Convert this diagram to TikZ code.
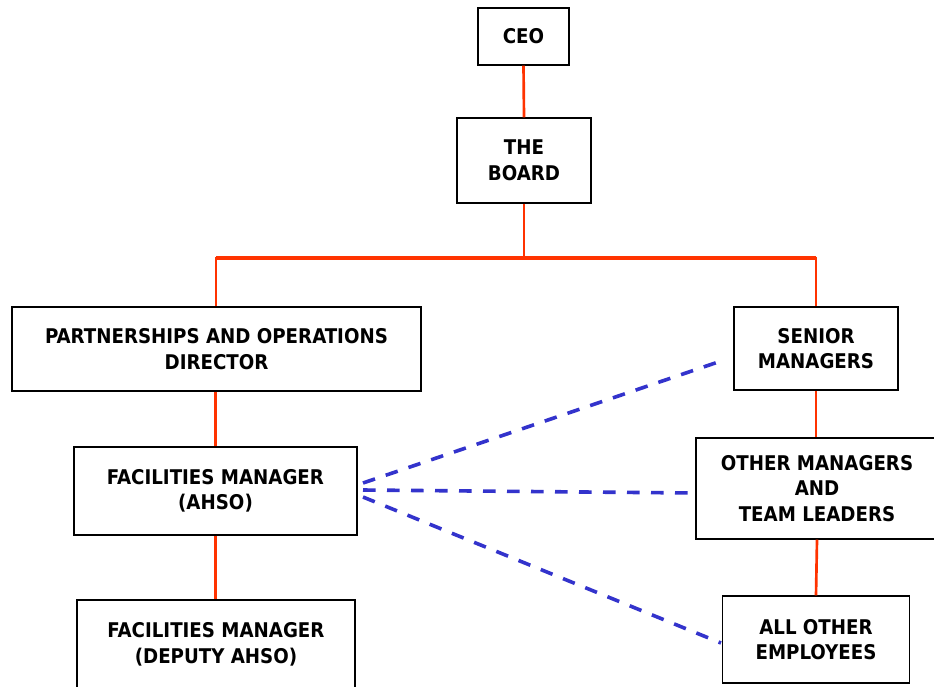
\documentclass[tikz,border=0pt]{standalone}
\usepackage{fontspec}
\setmainfont{DejaVu Sans Condensed}
\begin{document}
\begin{tikzpicture}[x=0.75pt,y=-0.75pt,
  box/.style={draw=black,line width=0.9pt,fill=white,align=center,inner sep=0pt,
    font=\fontsize{15.2}{19.2}\selectfont\bfseries},
  redline/.style={color={rgb,255:red,255;green,51;blue,0},line width=2pt},
  blueline/.style={color={rgb,255:red,51;green,51;blue,204},line width=2.7pt,dash pattern=on 9.5pt off 8.5pt}]
\clip (0,0) rectangle (934,686);
\fill[white] (0,0) rectangle (934,686);
\node[box,minimum width=91*0.75pt,minimum height=57*0.75pt] (ceo) at (523.5,36.5) {CEO};
\node[box,minimum width=134*0.75pt,minimum height=85*0.75pt] (board) at (524,160.5) {THE\\BOARD};
\node[box,minimum width=409*0.75pt,minimum height=84*0.75pt] (pod) at (216.5,349) {PARTNERSHIPS AND OPERATIONS\\DIRECTOR};
\node[box,minimum width=164*0.75pt,minimum height=83*0.75pt] (sm) at (816,348.5) {SENIOR\\MANAGERS};
\node[box,minimum width=283*0.75pt,minimum height=88*0.75pt] (fm) at (215.5,491) {FACILITIES MANAGER\\(AHSO)};
\node[box,minimum width=242*0.75pt,minimum height=101*0.75pt] (om) at (817,488.5) {OTHER MANAGERS\\AND\\TEAM LEADERS};
\node[box,minimum width=278*0.75pt,minimum height=89*0.75pt] (dep) at (216,644.5) {FACILITIES MANAGER\\(DEPUTY AHSO)};
\node[box,minimum width=187*0.75pt,minimum height=87*0.75pt] (ae) at (816,639.5) {ALL OTHER\\EMPLOYEES};
% red connectors
\coordinate (jl) at (216,258);
\coordinate (jr) at (816,258);
\coordinate (jm) at (524,258);
\draw[redline] (ceo.south) -- (board.north);
\draw[redline] (board.south) -- (jm);
\draw[redline,line width=2.6pt] (jl) -- (jr);
\draw[redline] ([yshift=1pt]jl) -- (jl |- pod.north);
\draw[redline] ([yshift=1pt]jr) -- (sm.north);
\draw[redline] (fm.north |- pod.south) -- (fm.north);
\draw[redline] (fm.south) -- (fm.south |- dep.north);
\draw[redline] (sm.south) -- (sm.south |- om.north);
\draw[redline] (om.south) -- (ae.north);
% blue dashed
\coordinate (f1) at (363,483);
\coordinate (f2) at (363,490);
\coordinate (f3) at (363,497);
\coordinate (s1) at (724,360);
\coordinate (s2) at (695,493);
\coordinate (s3) at (721,643);
\draw[blueline] (f1) -- (s1);
\draw[blueline] (f2) -- (s2);
\draw[blueline] (f3) -- (s3);
\end{tikzpicture}
\end{document}
